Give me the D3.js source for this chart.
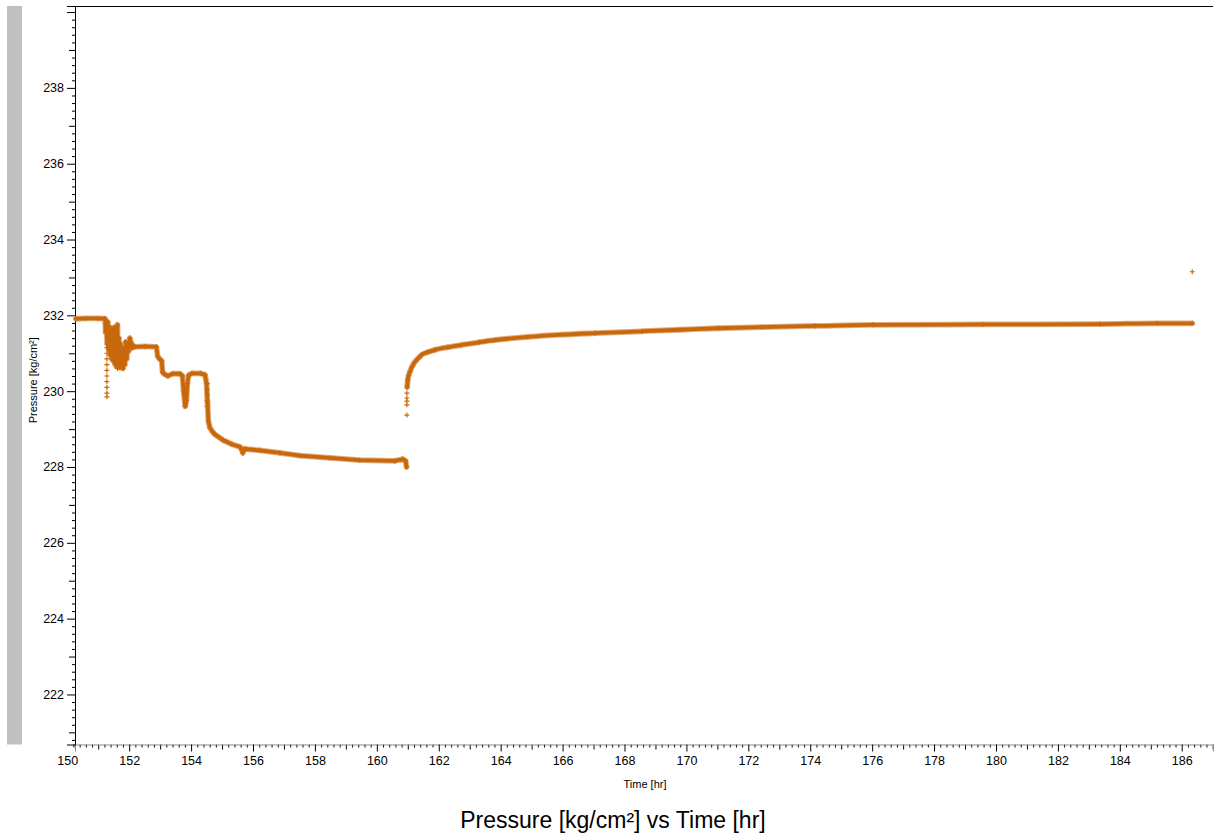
<!DOCTYPE html>
<html>
<head>
<meta charset="utf-8">
<script src="https://cdn.jsdelivr.net/npm/d3@7"></script>
<style>
  html, body { margin: 0; padding: 0; background: #fff; }
  svg { display: block; font-family: "Liberation Sans", Arial, sans-serif; }
</style>
</head>
<body>
<svg id="chart" width="1215" height="838"></svg>
<script>
// Gauge record before the shut-in (hours, kg/cm²)
const timeDrawdown = [
  150.28, 150.60, 151.00, 151.22, 151.24, 151.26, 151.29, 151.31, 151.34, 151.36,
  151.39, 151.41, 151.44, 151.46, 151.49, 151.51, 151.54, 151.56, 151.59, 151.62,
  151.64, 151.67, 151.70, 151.72, 151.75, 151.78, 151.80, 151.83, 151.86, 151.89,
  151.92, 151.95, 151.98, 152.02, 152.06, 152.10, 152.14, 152.18, 152.50, 152.88,
  152.92, 152.99, 153.05, 153.08, 153.12, 153.25, 153.40, 153.64, 153.72, 153.76,
  153.81, 153.85, 153.88, 153.92, 154.03, 154.30, 154.45, 154.50, 154.53, 154.56,
  154.61, 154.70, 154.77, 155.03, 155.32, 155.58, 155.64, 155.67, 155.72, 155.80,
  156.22, 156.87, 157.51, 158.48, 159.45, 160.58, 160.84, 160.93, 160.96
];
const pressureDrawdown = [
  231.91, 231.92, 231.92, 231.91, 231.55, 231.86, 231.25, 231.82, 231.10, 231.70,
  230.95, 231.62, 230.85, 231.50, 230.80, 231.68, 230.72, 231.45, 230.65, 231.75,
  230.90, 231.40, 230.62, 231.25, 230.66, 231.15, 230.60, 231.05, 230.70, 231.30,
  230.85, 231.25, 231.05, 231.40, 231.28, 231.14, 231.20, 231.17, 231.18, 231.17,
  230.92, 230.84, 230.80, 230.50, 230.46, 230.40, 230.46, 230.46, 230.40, 230.00,
  229.60, 229.75, 230.20, 230.42, 230.47, 230.47, 230.43, 230.20, 229.70, 229.20,
  229.03, 228.92, 228.86, 228.71, 228.60, 228.53, 228.45, 228.37, 228.48, 228.47,
  228.44, 228.37, 228.30, 228.24, 228.18, 228.16, 228.21, 228.16, 228.00
];

// Gauge record after the shut-in (build-up)
const timeBuildup = [
  160.98, 161.00, 161.03, 161.07, 161.14, 161.23, 161.33, 161.45, 161.65, 161.88,
  162.30, 162.74, 163.30, 163.83, 164.88, 165.98, 167.05, 168.57, 169.79, 171.02,
  172.44, 174.16, 176.03, 179.58, 183.36, 185.20, 186.34
];
const pressureBuildup = [
  230.11, 230.30, 230.42, 230.51, 230.65, 230.77, 230.86, 230.96, 231.03, 231.09,
  231.16, 231.22, 231.29, 231.35, 231.43, 231.49, 231.53, 231.58, 231.62, 231.66,
  231.69, 231.72, 231.75, 231.76, 231.77, 231.79, 231.79
];

// Isolated gauge readings (spikes and stray samples)
const timeStray = [
  151.28, 151.28, 151.28, 151.28, 151.28, 151.28, 151.28, 151.28, 151.28, 151.28,
  151.62, 151.62, 151.62, 151.62, 151.62,
  154.52, 154.52, 154.52, 154.52, 154.52,
  160.97, 160.97, 160.97, 160.97, 160.97,
  186.34
];
const pressureStray = [
  231.15, 231.00, 230.85, 230.70, 230.55, 230.40, 230.25, 230.10, 229.95, 229.85,
  231.20, 231.05, 230.90, 230.75, 230.60,
  230.20, 230.05, 229.90, 229.75, 229.60,
  229.37, 229.64, 229.74, 229.82, 229.95,
  233.15
];

// Axis ticks
const xMajorTicks = d3.range(150, 187, 2);
const yMajorTicks = d3.range(222, 241, 2);
const yLabelled = [222, 224, 226, 228, 230, 232, 234, 236, 238];

const titleText = "Pressure [kg/cm²] vs Time [hr]";
const xTitle = "Time [hr]";
const yTitle = "Pressure [kg/cm²]";

const svg = d3.select("#chart");
const plotLeft = 75, plotRight = 1213, plotTop = 6, plotBottom = 744.5;

const x = d3.scaleLinear().domain([150.25, 187.01]).range([plotLeft, plotRight]);
const y = d3.scaleLinear().domain([220.68, 240.16]).range([plotBottom, plotTop]);

const markColor = "#c8680c";

// grey strip along the left edge
svg.append("rect")
  .attr("x", 7).attr("y", plotTop).attr("width", 15).attr("height", plotBottom - plotTop)
  .attr("fill", "#c0c0c0");

// frame top line
svg.append("line")
  .attr("x1", plotLeft).attr("x2", plotRight).attr("y1", plotTop + 0.5).attr("y2", plotTop + 0.5)
  .attr("stroke", "#000").attr("stroke-width", 1);

// ---- x axis ----
const xMinor = d3.range(150.2, 187.01, 0.2).filter(v => Math.abs(v - Math.round(v)) > 0.01);
const xOdd = d3.range(151, 187.01, 2);

const gxMinor = svg.append("g").attr("transform", `translate(0,${plotBottom})`)
  .call(d3.axisBottom(x).tickValues(xMinor).tickSize(3).tickFormat(""));
const gxOdd = svg.append("g").attr("transform", `translate(0,${plotBottom})`)
  .call(d3.axisBottom(x).tickValues(xOdd).tickSize(5).tickFormat(""));
const gx = svg.append("g").attr("transform", `translate(0,${plotBottom})`)
  .call(d3.axisBottom(x).tickValues(xMajorTicks).tickSize(7).tickPadding(5).tickFormat(d3.format("d")));
[gxMinor, gxOdd].forEach(g => g.select(".domain").remove());
gx.select(".domain").attr("stroke", "#8c8c8c");
gx.selectAll(".tick").filter(d => d < x.domain()[0]).select("line").remove();
gx.selectAll("text").attr("font-size", 12.5).attr("fill", "#000")
  .attr("font-family", "Liberation Sans, Arial, sans-serif");

// ---- y axis ----
const yMinor = d3.range(220.8, 240.16, 0.2).filter(v => Math.abs(v - Math.round(v)) > 0.01);
const yOdd = d3.range(221, 240.1, 2);

const gyMinor = svg.append("g").attr("transform", `translate(${plotLeft},0)`)
  .call(d3.axisLeft(y).tickValues(yMinor).tickSize(3).tickFormat(""));
const gyOdd = svg.append("g").attr("transform", `translate(${plotLeft},0)`)
  .call(d3.axisLeft(y).tickValues(yOdd).tickSize(6).tickFormat(""));
const gy = svg.append("g").attr("transform", `translate(${plotLeft},0)`)
  .call(d3.axisLeft(y).tickValues(yMajorTicks).tickSize(8).tickPadding(3)
    .tickFormat(d => yLabelled.includes(d) ? d3.format("d")(d) : ""));
[gyMinor, gyOdd].forEach(g => g.select(".domain").remove());
gy.select(".domain").attr("stroke", "#000");
gy.selectAll("text").attr("font-size", 12.5).attr("fill", "#000")
  .attr("font-family", "Liberation Sans, Arial, sans-serif");
svg.selectAll("g .tick line").attr("stroke", "#000");

// ---- data ----
const plot = svg.append("g");
const line = d3.line().x(d => x(d[0])).y(d => y(d[1])).curve(d3.curveLinear);
const smoothLine = d3.line().x(d => x(d[0])).y(d => y(d[1])).curve(d3.curveMonotoneX);

const drawdown = timeDrawdown.map((t, i) => [t, pressureDrawdown[i]]);
const buildup = timeBuildup.map((t, i) => [t, pressureBuildup[i]]);
const stray = timeStray.map((t, i) => [t, pressureStray[i]]);

// soft halo then core, for the dense run of plus markers
[[drawdown, line], [buildup, smoothLine]].forEach(([series, gen]) => {
  plot.append("path").datum(series).attr("d", gen)
    .attr("fill", "none").attr("stroke", "#dc9a5c").attr("stroke-width", 5.8)
    .attr("stroke-linejoin", "round").attr("stroke-linecap", "round").attr("opacity", 0.8);
  plot.append("path").datum(series).attr("d", gen)
    .attr("fill", "none").attr("stroke", markColor).attr("stroke-width", 3.8)
    .attr("stroke-linejoin", "round").attr("stroke-linecap", "round");
});

const allPoints = drawdown.concat(buildup, stray);
plot.selectAll("path.mark").data(allPoints).join("path")
  .attr("class", "mark")
  .attr("transform", d => `translate(${x(d[0])},${y(d[1])})`)
  .attr("d", "M-2.5,0H2.5M0,-2.5V2.5")
  .attr("stroke", markColor).attr("stroke-width", 1.2).attr("fill", "none");

// ---- titles ----
svg.append("text")
  .attr("x", 645).attr("y", 788).attr("text-anchor", "middle")
  .attr("font-size", 11).attr("fill", "#000").text(xTitle);

svg.append("text")
  .attr("transform", `translate(37,${(plotTop + plotBottom) / 2 + 5}) rotate(-90)`)
  .attr("text-anchor", "middle").attr("font-size", 11).attr("fill", "#000").text(yTitle);

svg.append("text")
  .attr("x", 613).attr("y", 828).attr("text-anchor", "middle")
  .attr("font-size", 23).attr("fill", "#000").text(titleText);
</script>
</body>
</html>
